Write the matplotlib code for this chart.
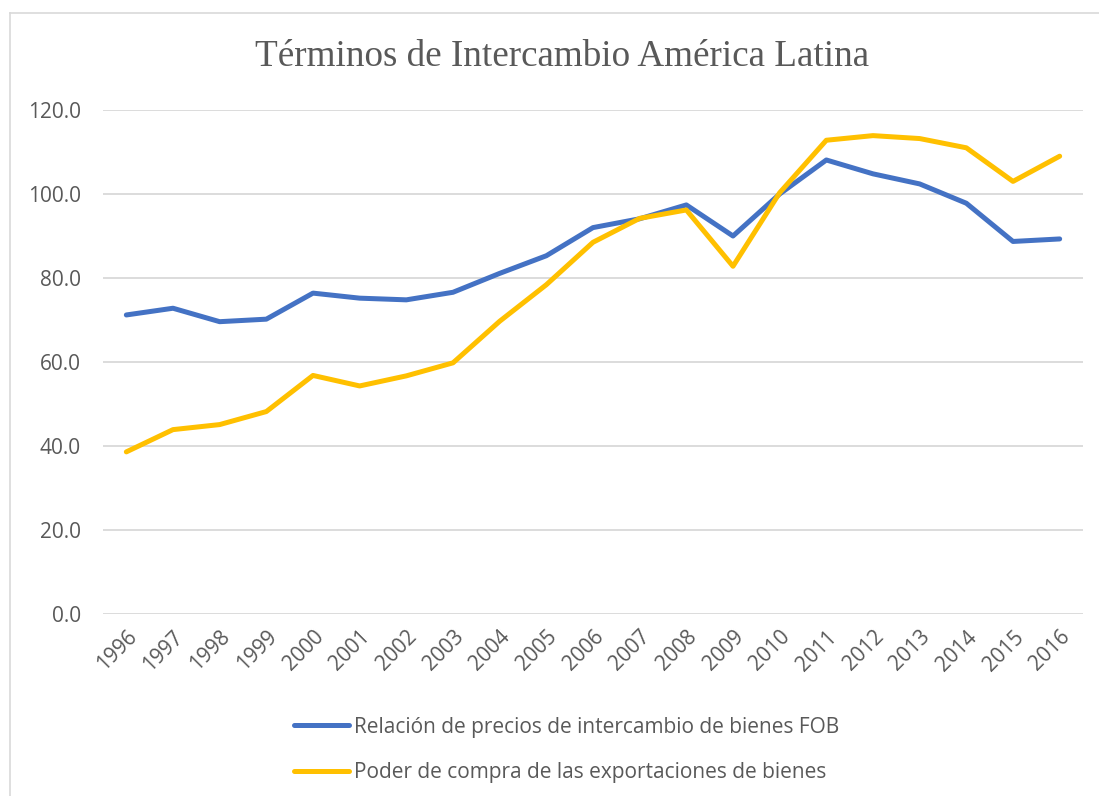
import matplotlib.pyplot as plt
from matplotlib.lines import Line2D

years = [str(y) for y in range(1996, 2017)]
relacion_precios = [71.2, 72.8, 69.6, 70.2, 76.4, 75.2, 74.8, 76.6, 81.1, 85.3,
                    92.0, 94.1, 97.4, 90.0, 100.0, 108.1, 104.8, 102.4, 97.8, 88.7, 89.3]
poder_compra = [38.6, 43.9, 45.1, 48.2, 56.8, 54.3, 56.7, 59.8, 69.7, 78.4,
                88.5, 94.2, 96.2, 82.8, 100.3, 112.8, 113.9, 113.2, 111.0, 103.0, 109.0]

BLUE = '#4472C4'
YELLOW = '#FFC000'
GRAY = '#595959'
GRID = '#D9D9D9'

plt.rcParams['font.family'] = ['Open Sans', 'DejaVu Sans']

fig = plt.figure(figsize=(10.99, 7.96), dpi=100)
ax = fig.add_axes([103 / 1099, 1 - 614 / 796, (1083 - 103) / 1099, (614 - 110) / 796])

x = list(range(len(years)))
ax.plot(x, relacion_precios, color=BLUE, lw=3.6, solid_capstyle='round',
        solid_joinstyle='round', label='Relación de precios de intercambio de bienes FOB')
ax.plot(x, poder_compra, color=YELLOW, lw=3.6, solid_capstyle='round',
        solid_joinstyle='round', label='Poder de compra de las exportaciones de bienes')

ax.set_xlim(-0.5, len(years) - 0.5)
ax.set_ylim(0, 120)
ax.set_yticks(range(0, 121, 20))
ax.set_yticklabels([f'{v:.1f}' for v in range(0, 121, 20)])
ax.set_xticks(x)
ax.set_xticklabels(years, rotation=45, ha='right', rotation_mode='anchor')
ax.tick_params(axis='both', length=0, colors=GRAY, labelsize=15)
ax.tick_params(axis='y', pad=16)
ax.tick_params(axis='x', pad=9)
ax.grid(axis='y', color=GRID, lw=1.3)
ax.set_axisbelow(True)
for s in ax.spines.values():
    s.set_visible(False)

fig.text(562 / 1099, 1 - 57 / 796, 'Términos de Intercambio América Latina',
         family='Liberation Serif', fontsize=26.7, color=GRAY, ha='center', va='center')

# marco del gráfico
fig.add_artist(Line2D([10 / 1099, 1], [1 - 13 / 796] * 2, color=GRID, lw=1.2))
fig.add_artist(Line2D([10 / 1099] * 2, [0, 1 - 13 / 796], color=GRID, lw=1.2))

handles, labels = ax.get_legend_handles_labels()
fig.legend(handles, labels, loc='upper left', bbox_to_anchor=(275 / 1099, 1 - 698 / 796),
           frameon=False, fontsize=15, labelcolor=GRAY, handlelength=2.65,
           handletextpad=0.25, labelspacing=1.18)

fig.savefig('out.png', dpi=100)
